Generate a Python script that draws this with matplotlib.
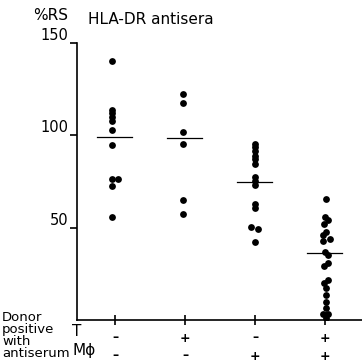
import matplotlib
matplotlib.use("Agg")
import matplotlib.pyplot as plt

plt.rcParams['font.family'] = ['DejaVu Sans']

# Data (values in %RS)
g1 = [140, 113.5, 112, 110, 108, 103, 95, 76.5, 76.5, 72.5, 56]
g1_dx = [-0.04, -0.04, -0.04, -0.04, -0.04, -0.04, -0.04, -0.04, 0.05, -0.04, -0.04]
g2 = [122.5, 117.5, 102, 95.5, 65, 57.5]
g2_dx = [-0.03] * 6
g3 = [95.5, 93.5, 91.5, 89, 87, 84.5, 77.5, 75.5, 73, 63, 60.5, 50.5, 49.5, 42.5]
g3_dx = [0, 0, 0, 0, 0, 0, 0, 0, 0, 0, 0, -0.05, 0.05, 0]
g4 = [65.5, 56, 54, 52, 47.5, 46, 44, 43, 37, 35, 31, 29, 21.5, 20, 17.5, 13.5, 10, 6.5, 3, 3, 1]
g4_dx = [0.01, 0, 0.04, -0.02, 0.02, -0.03, 0.07, -0.03, 0, 0.04, 0.04, -0.02, 0.04, -0.02, 0.02, 0.01, 0.01, 0.01, -0.03, 0.05, 0.01]
groups = [g1, g2, g3, g4]
offsets = [g1_dx, g2_dx, g3_dx, g4_dx]
medians = [99, 98.5, 75, 36.5]
t_signs = ['–', '+', '–', '+']
m_signs = ['–', '–', '+', '+']
yticks = [50, 100, 150]

fig = plt.figure(figsize=(3.62, 3.61), dpi=100)
ax = fig.add_axes([77/362, 1 - 320/361, 285/362, 277/361])

for i, (vals, dx) in enumerate(zip(groups, offsets)):
    x = i + 1
    ax.scatter([x + d for d in dx], vals, s=24, color='black', zorder=3, linewidths=0)
    ax.plot([x - 0.26, x + 0.24], [medians[i]] * 2, color='black', lw=0.9, zorder=2)

ax.set_xlim(0.457, 4.53)
ax.set_ylim(0, 150)
ax.spines['top'].set_visible(False)
ax.spines['right'].set_visible(False)
ax.spines['left'].set_linewidth(1.2)
ax.spines['bottom'].set_linewidth(1.2)
ax.set_yticks(yticks)
ax.set_yticklabels([str(v) for v in yticks], fontsize=10.5)
for lbl in ax.get_yticklabels():
    lbl.set_verticalalignment('bottom')
ax.tick_params(axis='y', direction='out', length=5, width=1.2, pad=1)
ax.set_xticks([1, 2, 3, 4])
ax.set_xticklabels([])
ax.tick_params(axis='x', direction='inout', length=7, width=1.2)

fig.text(33/362, 1 - 16/361, '%RS', fontsize=11, va='center', ha='left')
fig.text(88/362, 1 - 19/361, 'HLA-DR antisera', fontsize=11, va='center', ha='left')

fig.text(2/362, 1 - 311/361, 'Donor\npositive\nwith\nantiserum', fontsize=9.5,
         va='top', ha='left', linespacing=0.9)
fig.text(72/362, 1 - 332/361, 'T', fontsize=11, va='center', ha='left')
fig.text(72/362, 1 - 351/361, 'Mϕ', fontsize=11, va='center', ha='left')

for i in range(4):
    x = i + 1
    xf = (77 + (x - 0.457) * 70) / 362
    fig.text(xf, 1 - 338/361, t_signs[i], fontsize=9, va='center', ha='center', fontweight='bold')
    fig.text(xf, 1 - 356/361, m_signs[i], fontsize=9, va='center', ha='center', fontweight='bold')

fig.savefig('out.png', dpi=100)
